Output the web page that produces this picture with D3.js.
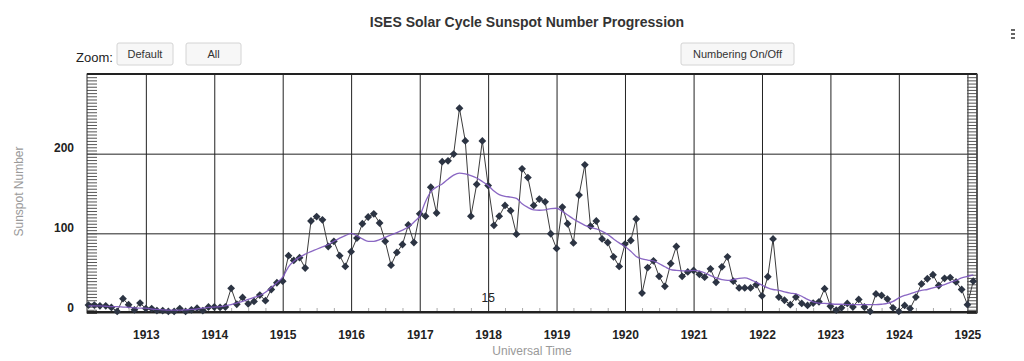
<!DOCTYPE html>
<html>
<head>
<meta charset="utf-8">
<script src="https://cdn.jsdelivr.net/npm/d3@7"></script>
<style>
  body { margin: 0; background: #fff; font-family: "Liberation Sans", Arial, sans-serif; }
  .grid line { stroke: #222; stroke-width: 1; }
  .grid .domain { display: none; }
  .band line { stroke: #555; stroke-width: 1; }
  .band .domain { display: none; }
  .quarter line { stroke: #aaa; }
  .quarter .domain { display: none; }
  .axis-label { font-size: 12px; font-weight: bold; fill: #222; }
  .axis-title { font-size: 12px; fill: #999; }
  .btn rect { fill: #f7f7f7; stroke: #d4d4d4; }
  .btn text { font-size: 11px; fill: #333; text-anchor: middle; }
</style>
</head>
<body>
<div id="chart"></div>
<script>
// Monthly sunspot number, Mar 1912 .. Feb 1925
const sunspotMonthly = [
  10, 10, 9, 9, 7, 2, 18, 10.5, 4, 12.5,                          // 1912
  5.5, 5.5, 3, 3, 2, 2, 5.5, 2, 4, 6, 3, 7.5,                      // 1913
  7.5, 7, 7.5, 31, 11, 19.5, 11.5, 14.5, 22.5, 15.5, 29.5, 38,     // 1914
  40, 72, 66, 69.5, 56.5, 115.5, 121, 117, 83.5, 90, 72, 58.5,     // 1915
  77, 94, 112, 120.5, 124.5, 113, 90, 60, 76, 86, 110.5, 88.5,     // 1916
  124.5, 121.5, 158, 125.5, 190, 191, 199.5, 257, 216, 121.5, 161.5, 216, // 1917
  160, 110, 121.5, 135, 128.5, 99, 181, 170, 135, 143, 139.5, 99.5, // 1918
  81, 133, 112, 88, 148, 186, 109, 115.5, 93, 88.5, 70.5, 58.5,    // 1919
  86.5, 91, 118, 25, 57, 65.5, 46, 33.5, 62, 83.5, 46, 51.5,       // 1920
  53.5, 48.5, 45, 55.5, 38.5, 58, 70.5, 40, 31.5, 31.5, 31.5, 35.5, // 1921
  21.5, 45.5, 93, 20, 16, 10.5, 20, 12, 9.5, 12.5, 14, 30.5,       // 1922
  8.5, 3.5, 6.5, 12, 7.5, 17, 7.5, 2, 24, 22, 17.5, 6.5,           // 1923
  2, 9.5, 5.5, 20, 36.5, 43, 48, 34.5, 43.5, 44.5, 39, 29.5,       // 1924
  10.5, 40                                                         // 1925
];

// 13-month smoothed sunspot number, same months
const smoothedMonthly = [
  9, 9, 9, 8.5, 8, 8, 7.5, 7, 6.5, 6,
  6, 5, 4.5, 4, 3.5, 3.5, 3.5, 4, 4.5, 5, 6, 7,
  7.5, 8, 9, 10.5, 12.5, 14.5, 17, 19.5, 22, 26, 32, 38,
  45, 58, 65, 70, 74, 77, 80, 83, 86, 90, 94, 97,
  100, 97, 93, 90, 90, 92, 95, 98, 101, 104, 108, 114,
  122, 140, 152, 158, 162, 168, 173, 175.5, 174.5, 172.5, 169.5, 165,
  160, 153, 148.5, 146.5, 145.5, 144, 137, 132.5, 129.5, 129, 129.5, 131,
  131.5, 127.5, 123, 118, 114, 110, 107.5, 105.5, 102.5, 98.5, 93, 88,
  83.5, 77.5, 71, 68, 66.5, 65.5, 62, 58, 54.5, 53.5, 53, 53,
  53.5, 52.5, 50.5, 47, 44, 42, 41, 42, 43.5, 44, 42, 38.5,
  35, 31.5, 29.5, 28.5, 26.5, 25, 24, 21, 17, 14, 12.5, 12,
  11.5, 11, 11, 10.5, 10.5, 10.5, 10.5, 10.5, 10.5, 11, 12, 14.5,
  19, 22, 24, 26.5, 28.5, 29.5, 31.5, 33.5, 35.5, 38.5, 41, 44,
  46, 48
];

const firstYear = 1912, firstMonth = 2; // March 1912
const yearLabels = ['1913', '1914', '1915', '1916', '1917', '1918', '1919',
                    '1920', '1921', '1922', '1923', '1924', '1925'];
const yTickValues = [0, 100, 200];
const cycleLabels = [{ name: '15', year: 1918, value: 14 }];
const buttons = ['Default', 'All', 'Numbering On/Off'];

class SunspotChart {
  constructor(_config) {
    this.config = {
      parentElement: _config.parentElement,
      containerWidth: _config.containerWidth || 1024,
      containerHeight: _config.containerHeight || 361,
      margin: _config.margin || { top: 74, right: 47, bottom: 48, left: 87 },
      diamond: 3.9
    };
    this.data = sunspotMonthly.map((v, i) => ({
      date: new Date(firstYear, firstMonth + i, 1),
      value: v,
      smooth: smoothedMonthly[i]
    }));
    this.initVis();
  }

  initVis() {
    let vis = this;
    vis.width = vis.config.containerWidth - vis.config.margin.left - vis.config.margin.right;
    vis.height = vis.config.containerHeight - vis.config.margin.top - vis.config.margin.bottom;

    vis.xScale = d3.scaleTime()
      .domain([new Date(1912, 1, 22), new Date(1925, 1, 21)])
      .range([0, vis.width]);

    vis.yScale = d3.scaleLinear()
      .domain([0, 300])
      .range([vis.height, 0]);

    vis.svg = d3.select(vis.config.parentElement).append('svg')
      .attr('width', vis.config.containerWidth)
      .attr('height', vis.config.containerHeight)
      .style('display', 'block');

    vis.svg.append('rect')
      .attr('width', vis.config.containerWidth)
      .attr('height', vis.config.containerHeight)
      .attr('fill', '#fff');

    vis.chart = vis.svg.append('g')
      .attr('transform', `translate(${vis.config.margin.left},${vis.config.margin.top})`);

    vis.renderFrame();
    vis.renderVis();
    vis.renderHeader();
  }

  renderFrame() {
    let vis = this;
    const yearDates = yearLabels.map(y => new Date(+y, 0, 1));

    // vertical year gridlines with labels
    vis.chart.append('g')
      .attr('class', 'grid')
      .attr('transform', `translate(0,${vis.height})`)
      .call(d3.axisBottom(vis.xScale)
        .tickValues(yearDates)
        .tickSize(-vis.height)
        .tickPadding(17)
        .tickFormat(d3.timeFormat('%Y')))
      .call(g => g.selectAll('text').attr('class', 'axis-label'));

    // horizontal gridlines
    vis.chart.append('g')
      .attr('class', 'grid')
      .call(d3.axisLeft(vis.yScale)
        .tickValues(yTickValues)
        .tickSize(-vis.width)
        .tickPadding(13))
      .call(g => g.selectAll('text').attr('class', 'axis-label').attr('dy', '-0.16em'))
      .call(g => g.selectAll('.tick').filter(d => d === 0).select('line').remove());

    // dense minor tick bands on both sides
    const minor = d3.range(0, 301, 4);
    vis.chart.append('g')
      .attr('class', 'band')
      .call(d3.axisRight(vis.yScale).tickValues(minor).tickSize(10).tickFormat(''));
    vis.chart.append('g')
      .attr('class', 'band')
      .attr('transform', `translate(${vis.width},0)`)
      .call(d3.axisLeft(vis.yScale).tickValues(minor).tickSize(10).tickFormat(''));

    // quarterly ticks along the bottom
    const quarters = d3.timeMonth.every(3).range(vis.xScale.domain()[0], vis.xScale.domain()[1])
      .filter(d => d.getMonth() !== 0);
    vis.chart.append('g')
      .attr('class', 'quarter')
      .attr('transform', `translate(0,${vis.height - 1})`)
      .call(d3.axisTop(vis.xScale).tickValues(quarters).tickSize(4).tickFormat(''));

    // plot border
    vis.chart.append('rect')
      .attr('width', vis.width)
      .attr('height', vis.height)
      .attr('fill', 'none')
      .attr('stroke', '#2b2b2b');
    vis.chart.append('line')
      .attr('x1', 0).attr('x2', vis.width)
      .attr('y1', 0).attr('y2', 0)
      .attr('stroke', '#222').attr('stroke-width', 2);
    vis.chart.append('line')
      .attr('x1', 0).attr('x2', vis.width)
      .attr('y1', vis.height - 1).attr('y2', vis.height - 1)
      .attr('stroke', '#222').attr('stroke-width', 2);
    vis.chart.append('line')
      .attr('x1', vis.width).attr('x2', vis.width)
      .attr('y1', 0).attr('y2', vis.height)
      .attr('stroke', '#444').attr('stroke-width', 1.5);

    // axis titles
    vis.svg.append('text')
      .attr('class', 'axis-title')
      .attr('transform', `translate(23,${vis.config.margin.top + vis.height / 2 - 2}) rotate(-90)`)
      .attr('text-anchor', 'middle')
      .text('Sunspot Number');

    vis.svg.append('text')
      .attr('class', 'axis-title')
      .attr('x', vis.config.margin.left + vis.width / 2)
      .attr('y', 355)
      .attr('text-anchor', 'middle')
      .text('Universal Time');
  }

  renderVis() {
    let vis = this;
    const r = vis.config.diamond;

    const rawLine = d3.line()
      .x(d => vis.xScale(d.date))
      .y(d => vis.yScale(d.value));

    const smoothLine = d3.line()
      .curve(d3.curveMonotoneX)
      .x(d => vis.xScale(d.date))
      .y(d => vis.yScale(d.smooth));

    vis.chart.append('path')
      .datum(vis.data)
      .attr('fill', 'none')
      .attr('stroke', '#3c3c3c')
      .attr('stroke-width', 1)
      .attr('d', rawLine);

    vis.chart.selectAll('.point')
      .data(vis.data)
      .join('path')
      .attr('class', 'point')
      .attr('d', `M0,${-r}L${r},0L0,${r}L${-r},0Z`)
      .attr('transform', d => `translate(${vis.xScale(d.date)},${vis.yScale(d.value)})`)
      .attr('fill', '#2c3443');

    vis.chart.append('path')
      .datum(vis.data)
      .attr('fill', 'none')
      .attr('stroke', '#7d57bd')
      .attr('stroke-opacity', 0.9)
      .attr('stroke-width', 1.3)
      .attr('d', smoothLine);

    vis.chart.selectAll('.cycle-label')
      .data(cycleLabels)
      .join('text')
      .attr('class', 'cycle-label')
      .attr('x', d => vis.xScale(new Date(d.year, 0, 1)))
      .attr('y', d => vis.yScale(d.value))
      .attr('text-anchor', 'middle')
      .attr('font-size', '12px')
      .attr('fill', '#222')
      .text(d => d.name);
  }

  renderHeader() {
    let vis = this;

    vis.svg.append('text')
      .attr('x', 527)
      .attr('y', 27)
      .attr('text-anchor', 'middle')
      .attr('font-size', '14px')
      .attr('font-weight', 'bold')
      .attr('fill', '#333')
      .text('ISES Solar Cycle Sunspot Number Progression');

    vis.svg.append('text')
      .attr('x', 76)
      .attr('y', 62)
      .attr('font-size', '13px')
      .attr('fill', '#222')
      .text('Zoom:');

    // button boxes: x, width
    const boxes = [[117, 56], [186, 55], [681, 113]];
    const btn = vis.svg.selectAll('.btn')
      .data(buttons)
      .join('g')
      .attr('class', 'btn')
      .attr('transform', (d, i) => `translate(${boxes[i][0]},43)`);
    btn.append('rect')
      .attr('width', (d, i) => boxes[i][1])
      .attr('height', 22)
      .attr('rx', 2);
    btn.append('text')
      .attr('x', (d, i) => boxes[i][1] / 2)
      .attr('y', 15)
      .text(d => d);

    // menu icon
    vis.svg.selectAll('.menu')
      .data([0, 1, 2])
      .join('rect')
      .attr('class', 'menu')
      .attr('x', 1011)
      .attr('y', d => 29 + d * 4)
      .attr('width', 4)
      .attr('height', 2)
      .attr('fill', '#666');
  }
}

new SunspotChart({ parentElement: '#chart' });
</script>
</body>
</html>
